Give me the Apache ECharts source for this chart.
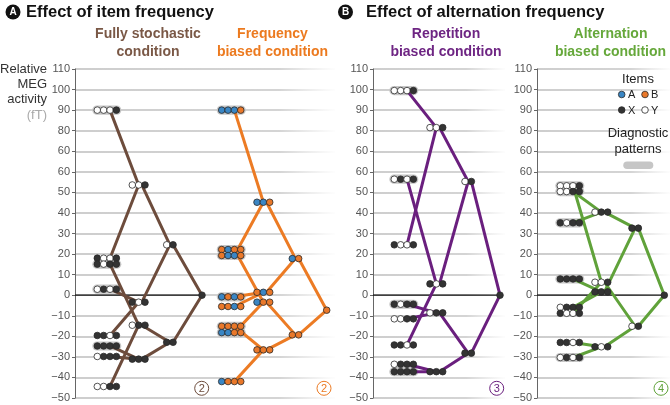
<!doctype html>
<html lang="en">
<head>
<meta charset="UTF-8">
<title>Effect of item / alternation frequency</title>
<script src="https://cdn.jsdelivr.net/npm/echarts@6/dist/echarts.min.js"></script>
<style>
  html, body { margin: 0; padding: 0; background: #fff; }
  #chart { width: 670px; height: 405px; }
</style>
</head>
<body>
<div id="chart"></div>
<script>
// y ticks, labels kept as printed in the figure (70 is printed as "60")
const yTickValues = [110, 100, 90, 80, 70, 60, 50, 40, 30, 20, 10, 0, -10, -20, -30, -40, -50];
const yTickLabels = ['110', '100', '90', '80', '60', '60', '50', '40', '30', '20', '10', '0', '−10', '−20', '−30', '−40', '−50'];

// Fully stochastic condition (X / Y)
const stochLeafSeq = ['YYYX', 'XYYX', 'XYXX', 'YXYX', 'XXYX', 'XXXX', 'YXXX', 'YYXX'];
const stochLeafVal = [90, 18, 15.1, 2.9, -19.6, -24.7, -29.8, -44.4];
const stochNode3Seq = ['YYX', 'XYX', 'YXX', 'XXX'];
const stochNode3Val = [53.6, -3.4, -14.6, -31.1];
const stochNode2Seq = ['YX', 'XX'];
const stochNode2Val = [24.5, -22.9];
const stochApexVal = 0;
const stochDiag = ['YYYX', 'XYXX', 'YXYX', 'XXXX'];

// Frequency biased condition (A / B)
const freqLeafSeq = ['AAAB', 'BABB', 'BAAB', 'ABAB', 'BBAB', 'BBBB', 'AABB', 'ABBB'];
const freqLeafVal = [90, 22.2, 19.3, -0.8, -5.5, -15.1, -18.2, -42];
const freqNode3Seq = ['AAB', 'BAB', 'ABB', 'BBB'];
const freqNode3Val = [45.2, 1.4, -3.4, -26.6];
const freqNode2Seq = ['AB', 'BB'];
const freqNode2Val = [17.8, -19.3];
const freqApexVal = -7.3;
const freqDiag = ['AAAB', 'BABB', 'BAAB', 'ABAB', 'BBBB', 'AABB'];

// Repetition biased condition (X / Y)
const repLeafSeq = ['YYYX', 'YXYX', 'XYYX', 'XYXX', 'YYXX', 'XXYX', 'YXXX', 'XXXX'];
const repLeafVal = [99.5, 56.4, 24.5, -4.4, -11.5, -24.2, -33.6, -37.2];
const repNode3Seq = ['YYX', 'XYX', 'YXX', 'XXX'];
const repNode3Val = [81.5, 5.5, -8.6, -37.2];
const repNode2Seq = ['YX', 'XX'];
const repNode2Val = [55.3, -28.2];
const repApexVal = 0;
const repDiag = ['YYYX', 'YXYX', 'XYXX', 'XXXX'];

// Alternation biased condition (X / Y)
const altLeafSeq = ['YYYX', 'YYXX', 'XYXX', 'XXXX', 'YXXX', 'XYYX', 'XXYX', 'YXYX'];
const altLeafVal = [53.2, 50.4, 35.2, 7.9, -5.9, -8.8, -23, -30.3];
const altNode3Seq = ['YXX', 'YYX', 'XXX', 'XYX'];
const altNode3Val = [40.4, 6.3, 1.6, -25.1];
const altNode2Seq = ['XX', 'YX'];
const altNode2Val = [32.6, -15.1];
const altApexVal = 0;
const altDiag = ['YYYX', 'YYXX', 'XYXX', 'XXXX', 'YXYX'];

const FONT = '"Liberation Sans", Arial, sans-serif';
const DOT = 6.35;  // spacing between items in a group (x axis units are px)
const itemFill = { X: '#333333', Y: '#ffffff', A: '#3a86c4', B: '#e9782a' };

const grids = [
  { left: 75, top: 69, width: 260, height: 329 },
  { left: 373, top: 69, width: 132, height: 329 },
  { left: 537, top: 69, width: 133, height: 329 }
];

const panels = [
  { grid: 0, color: '#6d4c3c', cols: [22.3, 57.3, 91.7, 127], zero: true,
    levels: [[stochLeafSeq, stochLeafVal], [stochNode3Seq, stochNode3Val], [stochNode2Seq, stochNode2Val], [['X'], [stochApexVal]]],
    diag: stochDiag },
  { grid: 0, color: '#ec7b24', cols: [146.7, 182, 217.3, 251.7], zero: false,
    levels: [[freqLeafSeq, freqLeafVal], [freqNode3Seq, freqNode3Val], [freqNode2Seq, freqNode2Val], [['B'], [freqApexVal]]],
    diag: freqDiag },
  { grid: 1, color: '#6a1f7e', cols: [21.3, 57, 92, 127], zero: true,
    levels: [[repLeafSeq, repLeafVal], [repNode3Seq, repNode3Val], [repNode2Seq, repNode2Val], [['X'], [repApexVal]]],
    diag: repDiag },
  { grid: 2, color: '#60a23a', cols: [23.3, 58, 95, 127.3], zero: true,
    levels: [[altLeafSeq, altLeafVal], [altNode3Seq, altNode3Val], [altNode2Seq, altNode2Val], [['X'], [altApexVal]]],
    diag: altDiag }
];

const series = [];
panels.forEach(p => {
  const dots = [], edges = [];
  p.levels.forEach(([seqs, vals], li) => {
    const x0 = p.cols[li];
    seqs.forEach((s, i) => {
      [...s].forEach((ch, k) => dots.push({ value: [x0 + k * DOT, vals[i]], itemStyle: { color: itemFill[ch] } }));
      if (li < 3) {
        // link to the node holding the same last items
        const [ps, pv] = p.levels[li + 1];
        const j = ps.indexOf(s.slice(1));
        const L = s.length;
        edges.push([x0 + (L / 2) * DOT, vals[i], p.cols[li + 1] + ((L - 2) / 2) * DOT, pv[j]]);
      }
    });
  });

  const axisIdx = { xAxisIndex: p.grid, yAxisIndex: p.grid };
  if (p.zero) {
    series.push(Object.assign({
      type: 'line', z: 2, symbol: 'none', silent: true,
      data: [[0, 0], [p.cols[3], p.levels[3][1][0]]],
      lineStyle: { color: '#111', width: 1.3 }
    }, axisIdx));
  }
  series.push(Object.assign({
    type: 'custom', z: 3, silent: true, data: edges,
    encode: { x: [0, 2], y: [1, 3] },
    renderItem: (params, api) => {
      const a = api.coord([api.value(0), api.value(1)]);
      const b = api.coord([api.value(2), api.value(3)]);
      return { type: 'line', shape: { x1: a[0], y1: a[1], x2: b[0], y2: b[1] },
        style: { stroke: p.color, lineWidth: 3, lineCap: 'round' } };
    }
  }, axisIdx));
  series.push(Object.assign({
    type: 'scatter', z: 5, silent: true, symbol: 'circle', symbolSize: 6.6, data: dots,
    itemStyle: { borderColor: '#2a2a2a', borderWidth: 0.8, opacity: 1 }
  }, axisIdx));
});

const fade = (solid) => new echarts.graphic.LinearGradient(0, 0, 1, 0, [
  { offset: 0, color: '#bdbdbd' },
  { offset: solid, color: '#c6c6c6' },
  { offset: 1, color: 'rgba(210,210,210,0)' }
]);

const text = (t, x, y, size, fill, weight, align, lh) => ({
  type: 'text', silent: true,
  style: { text: t, x: x, y: y, fontSize: size, fontFamily: FONT, fontWeight: weight || 'normal',
    fill: fill, align: align || 'left', verticalAlign: 'middle', lineHeight: lh }
});
const badge = (letter, cx, cy) => ([
  { type: 'circle', silent: true, shape: { cx: cx, cy: cy, r: 7.5 }, style: { fill: '#111' } },
  text(letter, cx, cy + 0.5, 10, '#fff', 'bold', 'center')
]);
const circled = (num, cx, cy, color) => ([
  { type: 'circle', silent: true, shape: { cx: cx, cy: cy, r: 7 }, style: { fill: '#fff', stroke: color, lineWidth: 1 } },
  text(num, cx, cy + 0.5, 11, color, 'normal', 'center')
]);

const graphics = [].concat(
  badge('A', 13, 12),
  [text('Effect of item frequency', 26, 12, 16.5, '#111', 'bold')],
  badge('B', 345.5, 12),
  [text('Effect of alternation frequency', 366, 12, 16.5, '#111', 'bold')],
  [text('Fully stochastic\ncondition', 148, 43, 14, '#7a5846', 'bold', 'center', 18)],
  [text('Frequency\nbiased condition', 272.5, 43, 14, '#ec7a1f', 'bold', 'center', 18)],
  [text('Repetition\nbiased condition', 446, 43, 14, '#6e2583', 'bold', 'center', 18)],
  [text('Alternation\nbiased condition', 610.5, 43, 14, '#66a83b', 'bold', 'center', 18)],
  [text('Relative\nMEG\nactivity', 47, 84, 13, '#333', 'normal', 'right', 15)],
  [text('(fT)', 47, 115, 13, '#aaa', 'normal', 'right')],
  circled('2', 201.7, 388.3, '#6d4c3c'),
  circled('2', 324, 388.3, '#ec7b24'),
  circled('3', 496.7, 388.3, '#6a1f7e'),
  circled('4', 661, 388.3, '#60a23a'),
  [
    text('Items', 638, 79.5, 13, '#222', 'normal', 'center'),
    { type: 'circle', silent: true, shape: { cx: 621.7, cy: 94.5, r: 3.3 }, style: { fill: itemFill.A, stroke: '#2a2a2a', lineWidth: 0.8 } },
    text('A', 628, 95, 11, '#222'),
    { type: 'circle', silent: true, shape: { cx: 645, cy: 94.5, r: 3.3 }, style: { fill: itemFill.B, stroke: '#2a2a2a', lineWidth: 0.8 } },
    text('B', 651, 95, 11, '#222'),
    { type: 'circle', silent: true, shape: { cx: 621.7, cy: 110, r: 3.3 }, style: { fill: itemFill.X, stroke: '#2a2a2a', lineWidth: 0.8 } },
    text('X', 628, 110.5, 11, '#222'),
    { type: 'circle', silent: true, shape: { cx: 645, cy: 110, r: 3.3 }, style: { fill: itemFill.Y, stroke: '#2a2a2a', lineWidth: 0.8 } },
    text('Y', 651, 110.5, 11, '#222'),
    text('Diagnostic\npatterns', 638, 141.5, 13, '#222', 'normal', 'center', 15.5),
    { type: 'rect', silent: true, shape: { x: 623.3, y: 161.5, width: 30, height: 7.5, r: 3.75 }, style: { fill: '#c6c6c6' } }
  ]
);

const chart = echarts.init(document.getElementById('chart'), null, { renderer: 'canvas' });
chart.setOption({
  animation: false,
  backgroundColor: '#fff',
  grid: grids,
  xAxis: grids.map((g, i) => ({ type: 'value', gridIndex: i, min: 0, max: g.width, show: false })),
  yAxis: grids.map((g, i) => ({
    type: 'value', gridIndex: i, min: -50, max: 110, interval: 10,
    axisLine: { show: true, lineStyle: { color: '#666', width: 1 } },
    axisTick: { show: true, length: 3, lineStyle: { color: '#666' } },
    axisLabel: {
      margin: 5, fontSize: 11, color: '#555', fontFamily: FONT,
      formatter: v => { const k = yTickValues.indexOf(v); return k >= 0 ? yTickLabels[k] : ''; }
    },
    splitLine: { show: true, lineStyle: { color: fade(i === 0 ? 0.78 : 0.7), width: 1.5 } }
  })),
  series: series
});

// diagnostic pattern pills, placed through each panel's axes, drawn under lines and dots
const pillEls = [];
panels.forEach(p => {
  const leafSeq = p.levels[0][0], leafVal = p.levels[0][1];
  for (let i = 0; i < leafSeq.length; i++) {
    if (p.diag.indexOf(leafSeq[i]) < 0) continue;
    const a = chart.convertToPixel({ gridIndex: p.grid }, [p.cols[0], leafVal[i]]);
    const b = chart.convertToPixel({ gridIndex: p.grid }, [p.cols[0] + (leafSeq[i].length - 1) * DOT, leafVal[i]]);
    if (!a || !b) continue;
    pillEls.push({
      type: 'rect', silent: true, z: 1,
      shape: { x: a[0] - 5, y: a[1] - 4.6, width: b[0] - a[0] + 10, height: 9.2, r: 4.6 },
      style: { fill: '#c6c6c6' }
    });
  }
});
chart.setOption({ graphic: pillEls.concat(graphics) });
</script>
</body>
</html>
